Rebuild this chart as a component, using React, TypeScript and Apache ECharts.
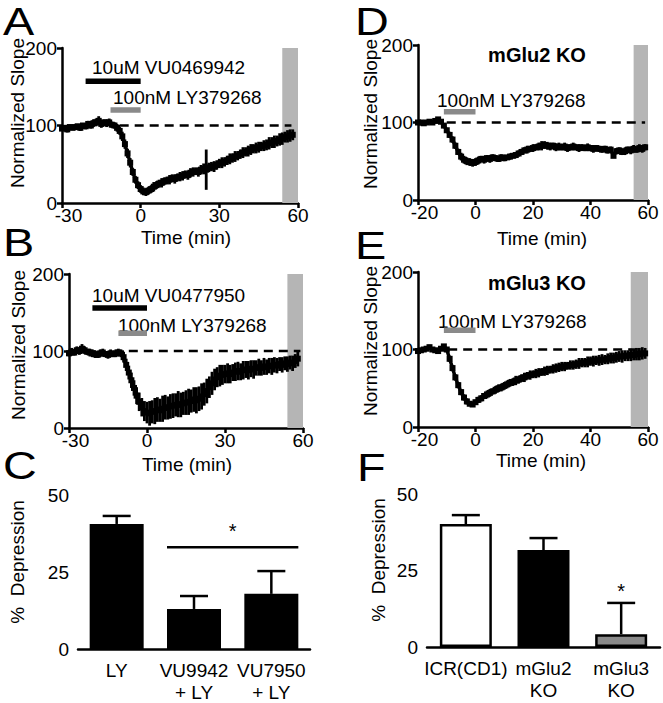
import React, { useEffect, useRef } from "react";
import * as echarts from "echarts";

// ---------- DATA ----------
// Panel A: VU0469942 + LY379268 (time from -30 min, 1 min bins)
const aStart = -30;
const aSlope = [
  96, 97, 95, 98, 97, 98, 99, 97, 100, 99,
  102, 100, 103, 104, 106, 102, 104, 103, 104, 101,
  100, 97, 93, 86, 76, 64, 52, 40, 30, 23,
  18, 15, 14, 16, 18, 21, 23, 25, 26, 28,
  29, 30, 32, 31, 33, 34, 35, 37, 36, 39,
  40, 41, 40, 43, 44, 43, 46, 47, 47, 49,
  51, 52, 53, 55, 57, 58, 60, 61, 63, 65,
  66, 67, 69, 70, 71, 72, 73, 74, 75, 77,
  78, 79, 80, 82, 83, 85, 86, 87, 88,
];
const aErr = [
  3, 3, 4, 3, 3, 4, 3, 4, 3, 4,
  4, 4, 5, 5, 6, 5, 4, 5, 5, 4,
  4, 5, 5, 6, 6, 6, 6, 5, 5, 5,
  5, 5, 5, 5, 5, 6, 5, 5, 6, 5,
  5, 6, 5, 6, 5, 6, 6, 5, 6, 6,
  6, 5, 6, 6, 7, 26, 6, 6, 7, 6,
  6, 7, 6, 6, 7, 6, 7, 6, 6, 7,
  6, 7, 7, 6, 7, 7, 6, 7, 7, 8,
  7, 8, 7, 8, 8, 7, 8, 8, 7,
];
const aVuBar = [[-21, 157], [0, 157]];
const aLyBar = [[-11.5, 120], [0, 120]];
const aBaseline = [[-8, 100], [57.5, 100]];
const aWash = [54, 60];

// Panel B: VU0477950 + LY379268
const bStart = -30;
const bSlope = [
  97, 99, 98, 101, 100, 103, 101, 99, 98, 97,
  96, 95, 97, 98, 96, 95, 97, 96, 97, 98,
  97, 92, 82, 72, 62, 52, 42, 34, 27, 22,
  20, 19, 21, 22, 24, 23, 25, 27, 26, 28,
  29, 30, 31, 30, 32, 33, 34, 35, 37, 36,
  38, 41, 44, 48, 53, 58, 63, 66, 68, 69,
  70, 71, 70, 72, 73, 74, 73, 75, 76, 75,
  77, 76, 78, 79, 78, 80, 79, 81, 80, 82,
  81, 83, 82, 84, 83, 85, 84, 87, 90,
];
const bErr = [
  4, 5, 4, 5, 5, 6, 5, 4, 5, 5,
  5, 4, 5, 5, 4, 5, 5, 4, 5, 5,
  5, 7, 8, 9, 10, 10, 11, 12, 12, 13,
  14, 16, 15, 17, 16, 15, 17, 16, 15, 16,
  16, 15, 17, 16, 15, 16, 17, 15, 16, 17,
  16, 17, 15, 16, 14, 15, 14, 13, 14, 13,
  12, 13, 12, 11, 12, 12, 11, 12, 11, 12,
  11, 12, 10, 11, 10, 11, 10, 10, 11, 10,
  10, 9, 10, 9, 10, 9, 10, 9, 10,
];
const bVuBar = [[-21, 156], [0, 156]];
const bLyBar = [[-11, 123], [0, 123]];
const bBaseline = [[-7, 100], [59, 100]];
const bWash = [54, 60];

// Panel D: mGlu2 KO
const dStart = -20;
const dSlope = [
  100, 100, 99, 100, 101, 100, 102, 104, 101, 96,
  90, 84, 78, 70, 62, 56, 52, 50, 49, 48,
  49, 51, 53, 52, 54, 53, 55, 54, 53, 55,
  54, 55, 56, 57, 58, 60, 62, 64, 65, 66,
  67, 68, 69, 70, 71, 70, 69, 70, 68, 69,
  68, 69, 67, 68, 69, 68, 67, 68, 67, 68,
  67, 66, 67, 66, 65, 66, 64, 65, 57, 63,
  64, 62, 63, 65, 64, 66, 65, 67, 66, 68,
];
const dErr = [
  2, 2, 2, 3, 2, 3, 2, 3, 3, 3,
  3, 4, 4, 4, 4, 5, 5, 5, 5, 5,
  5, 5, 4, 5, 4, 5, 4, 4, 4, 4,
  4, 3, 4, 3, 4, 4, 4, 4, 5, 4,
  5, 4, 5, 6, 5, 5, 5, 4, 5, 5,
  4, 5, 5, 4, 5, 4, 5, 4, 4, 5,
  4, 5, 4, 4, 4, 4, 4, 4, 2, 4,
  4, 4, 5, 4, 5, 5, 4, 5, 5, 4,
];
const dLyBar = [[-11, 114], [0, 114]];
const dBaseline = [[-10, 100], [59, 100]];
const dWash = [55, 60];

// Panel E: mGlu3 KO
const eStart = -20;
const eSlope = [
  98, 99, 100, 101, 103, 100, 99, 98, 101, 104,
  100, 88, 76, 64, 54, 45, 38, 33, 30, 29,
  32, 35, 37, 40, 42, 44, 46, 48, 50, 51,
  53, 55, 57, 58, 60, 61, 63, 64, 66, 67,
  68, 69, 70, 71, 72, 73, 74, 75, 76, 77,
  78, 78, 79, 80, 80, 81, 82, 83, 83, 84,
  85, 85, 86, 86, 87, 87, 88, 89, 89, 90,
  91, 91, 92, 92, 93, 93, 94, 94, 95, 95,
];
const eErr = [
  2, 3, 2, 3, 3, 2, 3, 2, 3, 3,
  3, 4, 4, 4, 4, 4, 4, 4, 3, 3,
  3, 4, 4, 4, 5, 5, 4, 5, 5, 5,
  5, 5, 5, 5, 6, 5, 5, 6, 5, 6,
  5, 6, 6, 5, 6, 6, 5, 6, 6, 6,
  6, 6, 5, 6, 6, 6, 7, 6, 6, 7,
  6, 7, 6, 7, 7, 6, 7, 7, 7, 7,
  7, 8, 7, 7, 8, 7, 8, 8, 8, 7,
];
const eLyBar = [[-11, 125], [0, 125]];
const eBaseline = [[-9.5, 100], [57.5, 100]];
const eWash = [54, 60];

// Panel C
const cCategories = ["LY", "VU9942\n+ LY", "VU7950\n+ LY"];
const cMeans = [40.6, 13.0, 17.9];
const cErrs = [2.6, 4.2, 7.4];
const cSig = [1, 2, 33];

// Panel F
const fCategories = ["ICR(CD1)", "mGlu2\nKO", "mGlu3\nKO"];
const fMeans = [40.2, 31.7, 4.2];
const fErrs = [2.9, 3.9, 10.2];
const fSigIndex = [2];

// ---------- STYLE ----------
const FONT = "'Liberation Sans', Arial, Helvetica, sans-serif";
const BLACK = "#000";
const DRUG_GRAY = "#8a8a8a";
const WASH_GRAY = "#b5b5b5";

const gridBase = { outerBoundsMode: "none", containLabel: false };
const grids = [
  { ...gridBase, left: 62, top: 48, width: 236, height: 155 }, // A
  { ...gridBase, left: 69, top: 274, width: 234, height: 154 }, // B
  { ...gridBase, left: 78, top: 495, width: 232, height: 154 }, // C
  { ...gridBase, left: 418, top: 45, width: 230, height: 155 }, // D
  { ...gridBase, left: 418, top: 272, width: 230, height: 155 }, // E
  { ...gridBase, left: 427, top: 494, width: 233, height: 153 }, // F
];

const axisLine = { onZero: false, lineStyle: { color: BLACK, width: 2.5 } };
const axisTick = { length: 5, lineStyle: { color: BLACK, width: 2.5 } };

function valueX(gi: number, min: number, max: number, interval: number) {
  return {
    type: "value", gridIndex: gi, min, max, interval,
    axisLine, axisTick,
    axisLabel: {
      color: BLACK, fontSize: 19, fontFamily: FONT, margin: 3,
      formatter: (v: number) => (v === min ? `{first|${v}}` : `${v}`),
      rich: { first: { fontSize: 19, fontFamily: FONT, color: BLACK, padding: [0, 0, 0, 13] } },
    },
    splitLine: { show: false },
  };
}
function valueY(gi: number, max: number, interval: number, margin: number) {
  return {
    type: "value", gridIndex: gi, min: 0, max, interval,
    axisLine, axisTick,
    axisLabel: { color: BLACK, fontSize: 19, fontFamily: FONT, margin },
    splitLine: { show: false },
  };
}
function catX(gi: number, cats: string[]) {
  return {
    type: "category", gridIndex: gi, data: cats,
    axisLine,
    axisTick: { ...axisTick, alignWithLabel: true },
    axisLabel: { color: BLACK, fontSize: 19, fontFamily: FONT, margin: 10, lineHeight: 22, interval: 0 },
    splitLine: { show: false },
  };
}

function traceSeries(gi: number, start: number, vals: number[], errs: number[],
  baseline: number[][], wash: number[], bars: { data: number[][]; color: string }[]) {
  const pts = vals.map((v, i) => [start + i, v]);
  const errPts = vals.map((v, i) => [start + i, v, errs[i]]);
  const out: any[] = [
    {
      type: "line", xAxisIndex: gi, yAxisIndex: gi, data: baseline, symbol: "none",
      lineStyle: { color: BLACK, width: 2.5, type: [9, 6] }, z: 3, silent: true,
      markArea: {
        silent: true,
        itemStyle: { color: WASH_GRAY },
        data: [[{ xAxis: wash[0], yAxis: 0 }, { xAxis: wash[1], yAxis: 200 }]],
      },
    },
    {
      type: "custom", xAxisIndex: gi, yAxisIndex: gi, data: errPts, encode: { x: 0, y: 1 }, z: 4, clip: false,
      renderItem: (params: any, api: any) => {
        const x = api.value(0), y = api.value(1), e = api.value(2);
        const p1 = api.coord([x, y + e]);
        const p2 = api.coord([x, y - e]);
        return { type: "line", shape: { x1: p1[0], y1: p1[1], x2: p2[0], y2: p2[1] }, style: { stroke: BLACK, lineWidth: 2.8 } };
      },
    },
    {
      type: "line", xAxisIndex: gi, yAxisIndex: gi, data: pts, symbol: "rect", symbolSize: 6,
      itemStyle: { color: BLACK }, lineStyle: { color: BLACK, width: 3.5 }, z: 5,
    },
  ];
  bars.forEach((b) => {
    out.push({
      type: "line", xAxisIndex: gi, yAxisIndex: gi, data: b.data, symbol: "none",
      lineStyle: { color: b.color, width: 5.5, cap: "butt" }, z: 5,
    });
  });
  return out;
}

function barSeries(gi: number, means: number[], errs: number[], items: any[], barWidth: number) {
  return [
    {
      type: "bar", xAxisIndex: gi, yAxisIndex: gi, barWidth,
      data: means.map((m, i) => ({ value: m, itemStyle: items[i] })), z: 2,
    },
    {
      type: "custom", xAxisIndex: gi, yAxisIndex: gi, data: means.map((m, i) => [i, m, errs[i]]),
      encode: { x: 0, y: 1 }, z: 3, clip: false,
      renderItem: (params: any, api: any) => {
        const c = api.coord([api.value(0), api.value(1)]);
        const t = api.coord([api.value(0), api.value(1) + api.value(2)]);
        return {
          type: "group",
          children: [
            { type: "line", shape: { x1: c[0], y1: c[1], x2: t[0], y2: t[1] }, style: { stroke: BLACK, lineWidth: 2.5 } },
            { type: "line", shape: { x1: t[0] - 14, y1: t[1], x2: t[0] + 14, y2: t[1] }, style: { stroke: BLACK, lineWidth: 2.5 } },
          ],
        };
      },
    },
  ];
}

function txt(text: string, x: number, y: number, opts: any = {}) {
  const { align = "left", size = 19, weight = "normal", rotation = 0, scaleX = 1, lineHeight } = opts;
  const style: any = { text, fill: BLACK, fontSize: size, fontWeight: weight, fontFamily: FONT, align, verticalAlign: "middle" };
  if (lineHeight) style.lineHeight = lineHeight;
  return { type: "text", x, y, rotation, scaleX, style };
}
const letter = (t: string, x: number, y: number) => txt(t, x, y, { size: 39, scaleX: 1.2, lineHeight: 30 });

const option: any = {
  animation: false,
  backgroundColor: "#fff",
  grid: grids,
  xAxis: [
    valueX(0, -30, 60, 30),
    valueX(1, -30, 60, 30),
    catX(2, cCategories),
    valueX(3, -20, 60, 20),
    valueX(4, -20, 60, 20),
    catX(5, fCategories),
  ],
  yAxis: [
    valueY(0, 200, 100, 5),
    valueY(1, 200, 100, 5),
    valueY(2, 50, 25, 9),
    valueY(3, 200, 100, 5),
    valueY(4, 200, 100, 5),
    valueY(5, 50, 25, 9),
  ],
  series: [
    ...traceSeries(0, aStart, aSlope, aErr, aBaseline, aWash, [
      { data: aVuBar, color: BLACK }, { data: aLyBar, color: DRUG_GRAY },
    ]),
    ...traceSeries(1, bStart, bSlope, bErr, bBaseline, bWash, [
      { data: bVuBar, color: BLACK }, { data: bLyBar, color: DRUG_GRAY },
    ]),
    ...traceSeries(3, dStart, dSlope, dErr, dBaseline, dWash, [{ data: dLyBar, color: DRUG_GRAY }]),
    ...traceSeries(4, eStart, eSlope, eErr, eBaseline, eWash, [{ data: eLyBar, color: DRUG_GRAY }]),
    ...barSeries(2, cMeans, cErrs, [
      { color: BLACK }, { color: BLACK }, { color: BLACK },
    ], 54),
    ...barSeries(5, fMeans, fErrs, [
      { color: "#fff", borderColor: BLACK, borderWidth: 2.5 },
      { color: BLACK },
      { color: DRUG_GRAY, borderColor: BLACK, borderWidth: 2.5 },
    ], 52),
    {
      type: "custom", xAxisIndex: 2, yAxisIndex: 2, data: [cSig], encode: { x: 0, y: 2 }, z: 4, clip: false,
      renderItem: (params: any, api: any) => {
        const a = api.coord([api.value(0), api.value(2)]);
        const b = api.coord([api.value(1), api.value(2)]);
        const hw = 27;
        return {
          type: "group",
          children: [
            { type: "line", shape: { x1: a[0] - hw, y1: a[1], x2: b[0] + hw, y2: b[1] }, style: { stroke: BLACK, lineWidth: 2.5 } },
            { type: "text", x: (a[0] + b[0]) / 2, y: a[1] - 16, style: { text: "*", fill: BLACK, fontSize: 20, fontFamily: FONT, align: "center", verticalAlign: "middle" } },
          ],
        };
      },
    },
    {
      type: "custom", xAxisIndex: 5, yAxisIndex: 5,
      data: fSigIndex.map((i) => [i, fMeans[i] + fErrs[i]]), encode: { x: 0, y: 1 }, z: 4, clip: false,
      renderItem: (params: any, api: any) => {
        const p = api.coord([api.value(0), api.value(1)]);
        return { type: "text", x: p[0], y: p[1] - 12, style: { text: "*", fill: BLACK, fontSize: 20, fontFamily: FONT, align: "center", verticalAlign: "middle" } };
      },
    },
  ],
  graphic: [
    // panel letters
    letter("A", 3, 21),
    letter("B", 3, 242.5),
    letter("C", 3, 465),
    letter("D", 355, 21),
    letter("E", 355, 245),
    letter("F", 357, 467.5),
    // y axis titles
    txt("Normalized Slope", 17, 113, { align: "center", rotation: Math.PI / 2 }),
    txt("Normalized Slope", 18, 345, { align: "center", rotation: Math.PI / 2 }),
    txt("Normalized Slope", 370, 114, { align: "center", rotation: Math.PI / 2 }),
    txt("Normalized Slope", 370, 341, { align: "center", rotation: Math.PI / 2 }),
    txt("%  Depression", 17, 562, { align: "center", rotation: Math.PI / 2 }),
    txt("%  Depression", 378, 560, { align: "center", rotation: Math.PI / 2 }),
    // x axis titles
    txt("Time (min)", 186, 237, { align: "center" }),
    txt("Time (min)", 187, 464, { align: "center" }),
    txt("Time (min)", 542, 238, { align: "center" }),
    txt("Time (min)", 541, 460, { align: "center" }),
    // annotations
    txt("10uM VU0469942", 92, 67),
    txt("100nM LY379268", 113, 97),
    txt("10uM VU0477950", 92, 295),
    txt("100nM LY379268", 118, 325),
    txt("100nM LY379268", 437, 100),
    txt("100nM LY379268", 438, 321),
    txt("mGlu2 KO", 537, 55, { align: "center", size: 20, weight: "bold" }),
    txt("mGlu3 KO", 537, 283, { align: "center", size: 20, weight: "bold" }),
  ],
};

export default function App() {
  const ref = useRef<HTMLDivElement>(null);
  useEffect(() => {
    const chart = echarts.init(ref.current!, null, { renderer: "svg" });
    chart.setOption(option);
    return () => chart.dispose();
  }, []);
  return (
    <div
      ref={ref}
      style={{ position: "fixed", left: 0, top: 0, width: 663, height: 703, background: "#fff" }}
    />
  );
}
